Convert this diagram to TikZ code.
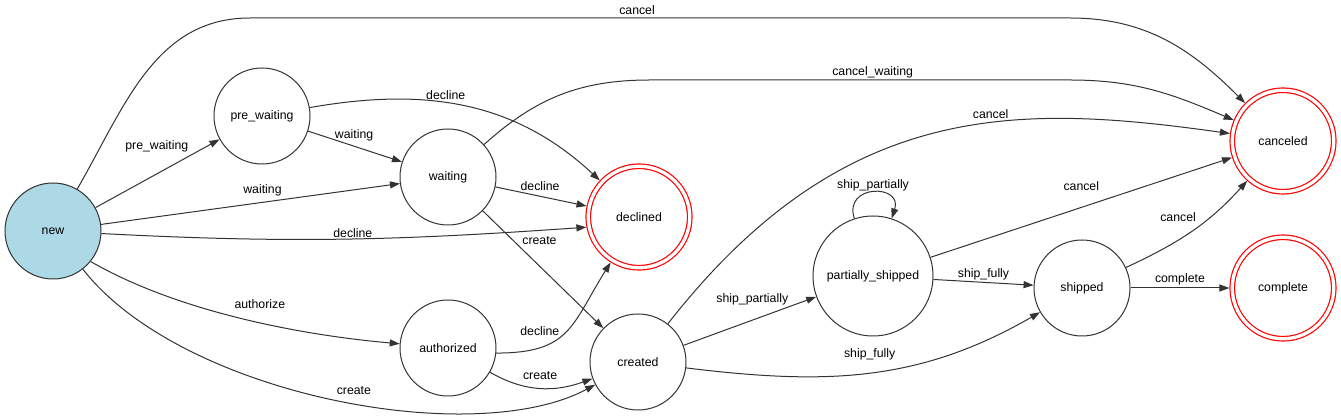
\documentclass[tikz,border=0pt]{standalone}
\usepackage{fontspec}
\setmainfont{Liberation Sans}
\usepackage{tikz}
\usetikzlibrary{positioning,arrows.meta}

\definecolor{lightblue}{HTML}{ADD8E6}
\definecolor{edgegray}{HTML}{333333}
\newcommand{\gvfont}{\fontsize{12.3}{14}\selectfont}

\tikzset{
  state/.style={circle, draw=edgegray, line width=1pt, minimum size=96pt, inner sep=0pt, font=\gvfont},
  initstate/.style={state, fill=lightblue},
  bigstate/.style={state, minimum size=120pt},
  accstate/.style={circle, draw=red, line width=1.2pt, double, double distance=3.3pt, minimum size=101.5pt, inner sep=0pt, outer sep=2.85pt, font=\gvfont},
  trans/.style={draw=edgegray, line width=1pt, -{Triangle[length=10pt,width=7pt]}},
  lbl/.style={inner sep=1pt, font=\gvfont}
}

\begin{document}
\begin{tikzpicture}[x=1pt, y=1pt, on grid]
\useasboundingbox (0,0) rectangle (1341,420);

% define nodes

% start
\node[initstate] (nw) at (53,189) {new};
% waiting branch
\node[state, above right=115pt and 209pt of nw] (pw) {pre\_waiting};
\node[state, below right=61pt and 186pt of pw] (wt) {waiting};
\node[accstate, below right=40pt and 191pt of wt] (dc) {declined};
% order branch
\node[state, below=171pt of wt] (au) {authorized};
\node[state, below right=14pt and 190pt of au] (cr) {created};
\node[bigstate, above right=86pt and 235pt of cr] (ps) {partially\_shipped};
\node[state, below right=12pt and 209pt of ps] (sh) {shipped};
% final states
\node[accstate, right=201pt of sh] (cp) {complete};
\node[accstate, above=147pt of cp] (cn) {canceled};

% edges

\draw[trans] (nw.60) to[out=60,in=180] (250,402) -- node[lbl,pos=0.472,above=2pt] {cancel} (1070,402) to[out=0,in=135] (cn);
\draw[trans] (nw) -- node[lbl,pos=0.76,anchor=south east,yshift=2pt] {pre\_waiting} (pw);
\draw[trans] (nw) -- node[lbl,pos=0.54,above=5pt] {waiting} (wt);
\draw[trans] (nw) to[out=-3,in=184] node[lbl,pos=0.52,above] {decline} (dc.191);
\draw[trans] (nw.-39) to[out=-30,in=175,looseness=0.8] node[lbl,pos=0.56,above=13pt] {authorize} (au);
\draw[trans] (nw) to[out=-52,in=208,out distance=159pt,in distance=139pt] node[lbl,pos=0.54,above=7pt] {create} (cr);

\draw[trans] (pw) -- node[lbl,pos=0.49,above=4pt] {waiting} (wt);
\draw[trans] (pw) to[out=10,in=137] node[lbl,pos=0.43,above=2pt] {decline} (dc);

\draw[trans] (wt) -- node[lbl,pos=0.49,above=4pt] {decline} (dc);
\draw[trans] (wt) -- node[lbl,pos=0.25,right=8pt] {create} (cr);
\draw[trans] (wt) to[out=42,in=180] (650,340) -- node[lbl,pos=0.53,above=0pt] {cancel\_waiting} (1070,340) to[out=0,in=157] (cn);

\draw[trans] (au.-6) to[out=0,in=238,looseness=1.3] node[lbl,pos=0.25,above=11pt] {decline} (dc);
\draw[trans] (au) to[out=-30,in=200] node[lbl,pos=0.5,above=7pt] {create} (cr);

\draw[trans] (cr) -- node[lbl,pos=0.8,anchor=south east] {ship\_partially} (ps);
\draw[trans] (cr) to[out=-7,in=210] node[lbl,pos=0.5,above=11pt] {ship\_fully} (sh);
\draw[trans] (cr) to[out=52,in=172,out distance=285pt,in distance=215pt] node[lbl,pos=0.6,above=3pt] {cancel} (cn);

\draw[trans] (ps) to[out=108,in=72,looseness=2.5] node[lbl,above] {ship\_partially} (ps);
\draw[trans] (ps) -- node[lbl,pos=0.5,above=1pt] {ship\_fully} (sh);
\draw[trans] (ps.18) -- node[lbl,pos=0.5,above=15pt] {cancel} (cn.198);

\draw[trans] (sh) to[out=25,in=228] node[lbl,pos=0.55,anchor=south east,yshift=4pt] {cancel} (cn);
\draw[trans] (sh) -- node[lbl,pos=0.5,above=1pt] {complete} (cp);

\end{tikzpicture}
\end{document}
